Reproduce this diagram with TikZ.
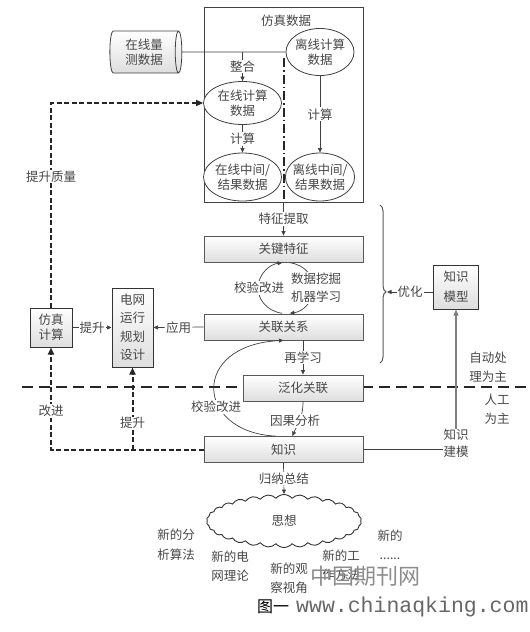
\documentclass[tikz,border=0pt]{standalone}
\usepackage{fontspec}
\setmainfont{Noto Sans CJK SC}
\newfontfamily\urlfont{Liberation Mono}
\usetikzlibrary{arrows.meta,shapes.geometric,shapes.symbols,decorations.pathreplacing,calc}
\begin{document}
\begin{tikzpicture}[x=1pt,y=-1pt,
 txt/.style={text=black!72,font=\fontsize{12.5}{15}\selectfont},
 shadefill/.style={top color=white,bottom color=black!13},
 mbox/.style={draw=black!65,line width=0.8pt,shadefill,minimum width=159pt,minimum height=26pt,inner sep=0pt,txt},
 sbox/.style={draw=black!80,line width=1pt,shadefill,inner sep=0pt,align=center,txt},
 ell/.style={ellipse,draw=black!75,line width=0.8pt,fill=white,inner sep=-3pt,align=center,txt,font=\fontsize{12.5}{15}\selectfont},
 lbl/.style={fill=white,inner sep=1pt,align=center,txt},
 plain/.style={inner sep=0pt,align=center,txt},
 arr/.style={draw=black!75,line width=0.7pt,-{Triangle[length=4.5pt,width=4pt]}},
 ln/.style={draw=black!75,line width=0.7pt},
 bdash/.style={draw=black!85,line width=2pt,dash pattern=on 5pt off 2.5pt,-{Triangle[length=7pt,width=6pt]}},
 hdash/.style={draw=black!85,line width=2.2pt,dash pattern=on 11pt off 6pt},
 ddot/.style={draw=black!85,line width=1.6pt,dash pattern=on 9pt off 3pt on 1.5pt off 3pt},
 garr/.style={draw=black!50,line width=1.2pt,-{Triangle[length=6pt,width=5pt]}},
]
\useasboundingbox (0,0) rectangle (530,632);
\draw[hdash] (22,387) -- (530,387);

% simulation data container
\node[draw=black!75,line width=1pt,fill=white,minimum width=159pt,minimum height=195pt,inner sep=0pt] (sim) at (283.5,104.5) {};
\node[plain] (simt) at (286,21) {仿真数据};
\draw[ddot] (284,58) -- (284,201);
\node[cylinder,draw=black!75,line width=0.8pt,shadefill,shape aspect=0.25,minimum width=42pt,minimum height=72pt,inner sep=0pt,align=center,txt] (cyl) at (144,52) {在线量\\测数据};
\node[ell,minimum width=78pt,minimum height=43pt] (onl) at (242.5,103) {在线计算\\数据};
\node[ell,minimum width=78pt,minimum height=48pt] (onm) at (242.5,177) {在线中间/\\结果数据};
\node[ell,minimum width=68pt,minimum height=47pt] (off) at (320,52) {离线计算\\数据};
\node[ell,minimum width=68pt,minimum height=48pt] (offm) at (320,177) {离线中间/\\结果数据};
\draw[ln] (cyl.east) -- (off.west);
\draw[arr] (cyl.east -| onl.north) -- node[lbl]{整合} (onl.north);
\draw[arr] (onl.south) -- node[lbl]{计算} (onm.north);
\draw[arr] (off.south) -- node[lbl]{计算} (offm.north);

% main chain
\node[mbox] (key) at (283.5,249) {关键特征};
\node[mbox] (rel) at (283.5,327) {关联关系};
\node[mbox,minimum width=120pt] (gen) at (303,388) {泛化关联};
\node[mbox] (know) at (283.5,449.5) {知识};
\draw[arr] (sim.south) -- node[lbl]{特征提取} (key.north);

% upper loop
\coordinate (lc) at (286,288);
\draw[arr] ($(lc)+(-3.9,25.25)$) arc[start angle=262,end angle=98,x radius=28pt,y radius=25.5pt];
\draw[arr] ($(lc)+(3.9,-25.25)$) arc[start angle=82,end angle=-82,x radius=28pt,y radius=25.5pt];
\node[lbl] at (259,288) {校验改进};
\node[lbl,font=\fontsize{12.5}{18}\selectfont] at (316,288) {数据挖掘\\机器学习};

% lower loop
\draw[arr] ($(know.north)+(-8,0)$) .. controls (195,432) and (190,345) .. (rel.south);
\node[lbl] at (216,407) {校验改进};
\draw[arr] (rel.south -| gen.north) -- node[lbl]{再学习} (gen.north);
\draw[arr] (gen.south) .. controls +(0,18) and +(4,-10) .. ($(know.north)+(9,0)$);
\node[lbl] at (295,421) {因果分析};

% left side
\node[sbox,minimum width=42pt,minimum height=39pt] (simc) at (51,327.5) {仿真\\计算};
\node[sbox,minimum width=41pt,minimum height=79pt,font=\fontsize{12.5}{18.5}\selectfont] (grid) at (132.5,327.5) {电网\\运行\\规划\\设计};
\draw[arr] (simc.east) -- node[lbl]{提升} (grid.west);
\draw[arr] (rel.west) -- node[lbl]{应用} (grid.east);
\draw[bdash] (simc.north) |- node[lbl,pos=0.32]{提升质量} (onl.west);
\draw[bdash] (know.west) -| node[lbl,pos=0.69]{改进} (simc.south);
\draw[bdash] (know.west -| grid.south) -- node[lbl,pos=0.32]{提升} (grid.south);

% right side
\node[sbox,minimum width=45pt,minimum height=44pt,font=\fontsize{12.5}{20}\selectfont] (kmodel) at (456,287) {知识\\模型};
\draw[draw=black!65,line width=1pt,decorate,decoration={brace,amplitude=6pt,aspect=0.55}] (380,205) -- (380,363);
\coordinate (tip) at (387,292);
\draw[arr] (kmodel.west |- tip) -- node[lbl]{优化} (tip);
\node[plain,font=\fontsize{12.5}{17}\selectfont] (kb) at (456,443) {知识\\建模};
\draw[ln] (know.east) -- (know.east -| kb.west);
\draw[garr] (kb.north) -- (kmodel.south);
\node[plain,font=\fontsize{12.5}{19}\selectfont] (auto) at (488,367) {自动处\\理为主};
\node[plain,font=\fontsize{12.5}{19}\selectfont] (manual) at (497,409) {人工\\为主};

% bottom
\node[cloud,cloud puffs=30,cloud puff arc=100,cloud ignores aspect,draw=black!80,line width=0.9pt,fill=white,minimum width=155pt,minimum height=53pt,txt] (cloud) at (284,521) {思想};
\draw[arr] (know.south) -- node[lbl]{归纳总结} (cloud.north);
\node[plain,font=\fontsize{12.5}{20}\selectfont] (t1) at (176,545) {新的分\\析算法};
\node[plain,font=\fontsize{12.5}{19}\selectfont] (t2) at (230,566) {新的电\\网理论};
\node[plain,font=\fontsize{12.5}{19}\selectfont] (t3) at (289,578) {新的观\\察视角};
\node[plain,font=\fontsize{12.5}{19}\selectfont] (t4) at (341,565) {新的工\\作方法};
\node[plain,font=\fontsize{12.5}{19}\selectfont] (t5) at (390,545) {新的\\......};
\node[text=black!45,font=\fontsize{22}{22}\selectfont,inner sep=0pt] (wm) at (365,576) {中国期刊网};
\node[anchor=west,inner sep=0pt] (cap) at (257,607) {{\fontsize{16}{16}\selectfont 图一}\hspace{7pt}{\urlfont\fontsize{21.5}{21.5}\selectfont\textcolor{black!60}{www.chinaqking.com}}};
\end{tikzpicture}
\end{document}
